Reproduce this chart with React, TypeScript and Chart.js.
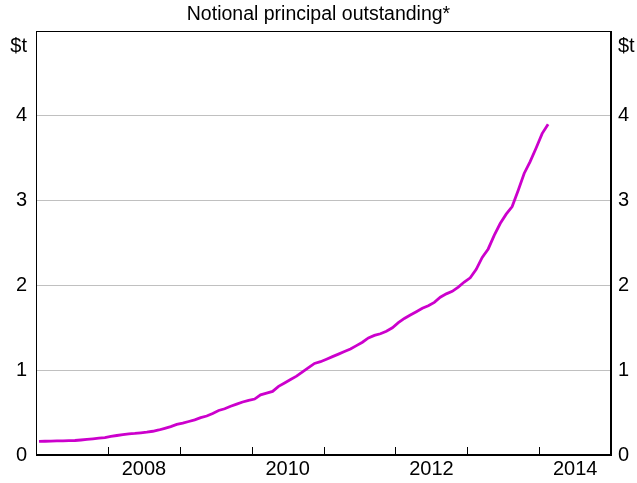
import React, { useEffect, useRef } from "react";
import { Chart, registerables } from "chart.js";

Chart.register(...registerables);

const title = "Notional principal outstanding*";
const unitLabel = "$t";
const startYear = 2007;
const yearTicks = [2007, 2008, 2009, 2010, 2011, 2012, 2013, 2014, 2015];
const labelledYears = [2008, 2010, 2012, 2014];
const yTicks = [0, 1, 2, 3, 4, 5];

// Monthly values, Jan 2007 – Feb 2014 (US$ trillion)
const values2007 = [0.16, 0.162, 0.164, 0.166, 0.167, 0.169, 0.171, 0.177, 0.184, 0.191, 0.198, 0.206];
const values2008 = [0.22, 0.23, 0.24, 0.25, 0.255, 0.262, 0.27, 0.28, 0.295, 0.315, 0.335, 0.36];
const values2009 = [0.375, 0.395, 0.415, 0.44, 0.46, 0.49, 0.525, 0.545, 0.575, 0.6, 0.625, 0.645];
const values2010 = [0.66, 0.71, 0.73, 0.75, 0.81, 0.85, 0.89, 0.93, 0.98, 1.03, 1.08, 1.1];
const values2011 = [1.13, 1.16, 1.19, 1.22, 1.25, 1.29, 1.33, 1.38, 1.41, 1.43, 1.46, 1.5];
const values2012 = [1.56, 1.61, 1.65, 1.69, 1.73, 1.76, 1.8, 1.86, 1.9, 1.93, 1.98, 2.04];
const values2013 = [2.09, 2.19, 2.33, 2.43, 2.59, 2.73, 2.84, 2.93, 3.12, 3.32, 3.46, 3.62];
const values2014 = [3.79, 3.9];

const series = [
  ...values2007, ...values2008, ...values2009, ...values2010,
  ...values2011, ...values2012, ...values2013, ...values2014,
];

const points = series.map((v, i) => ({ x: startYear + (i + 0.5) / 12, y: v }));

const FONT = "'Liberation Sans', Arial, sans-serif";
const TICK_SIZE = 20;

const decorPlugin = {
  id: "decor",
  afterDraw(chart: any) {
    const { ctx, chartArea, scales } = chart;
    const xs = scales.x;
    ctx.save();
    // inward tick marks
    ctx.strokeStyle = "#000";
    ctx.lineWidth = 1;
    ctx.beginPath();
    yearTicks.slice(1, -1).forEach((yr) => {
      const px = Math.round(xs.getPixelForValue(yr)) + 0.5;
      ctx.moveTo(px, chartArea.bottom);
      ctx.lineTo(px, chartArea.bottom - 8);
    });
    ctx.stroke();
    // frame
    ctx.strokeRect(
      Math.round(chartArea.left) + 0.5,
      Math.round(chartArea.top) + 0.5,
      Math.round(chartArea.right - chartArea.left) - 1,
      Math.round(chartArea.bottom - chartArea.top) - 1
    );
    // unit labels
    ctx.fillStyle = "#000";
    ctx.font = `${TICK_SIZE}px ${FONT}`;
    ctx.textBaseline = "middle";
    ctx.textAlign = "right";
    ctx.fillText(unitLabel, chartArea.left - 9, chartArea.top + 15);
    ctx.textAlign = "left";
    ctx.fillText(unitLabel, chartArea.right + 7, chartArea.top + 15);
    ctx.restore();
  },
};

export default function App() {
  const ref = useRef<HTMLCanvasElement | null>(null);

  useEffect(() => {
    if (!ref.current) return;
    const chart = new Chart(ref.current, {
      type: "line",
      data: {
        datasets: [
          {
            data: points,
            borderColor: "#cc00cc",
            borderWidth: 2.8,
            pointRadius: 0,
            tension: 0,
            fill: false,
            yAxisID: "y",
          },
        ],
      },
      options: {
        animation: false,
        responsive: false,
        layout: { padding: 0 },
        plugins: {
          legend: { display: false },
          tooltip: { enabled: false },
          title: {
            display: true,
            text: title,
            color: "#000",
            font: { family: FONT, size: 19.5, weight: "normal" },
            padding: { top: 3, bottom: 4.6 },
          },
        },
        scales: {
          x: {
            type: "linear",
            min: 2007,
            max: 2015,
            afterBuildTicks: (s: any) => {
              s.ticks = yearTicks.map((v) => ({ value: v }));
            },
            afterFit: (s: any) => {
              s.height = 28;
            },
            ticks: {
              autoSkip: false,
              maxRotation: 0,
              padding: 2,
              labelOffset: 36,
              color: "#000",
              font: { family: FONT, size: TICK_SIZE },
              callback: (v: any) => (labelledYears.includes(Number(v)) ? String(v) : ""),
            },
            grid: { display: false, drawTicks: false },
            border: { display: true, color: "#000", width: 1 },
          },
          y: {
            position: "left",
            min: 0,
            max: 5,
            afterBuildTicks: (s: any) => {
              s.ticks = yTicks.map((v) => ({ value: v }));
            },
            afterFit: (s: any) => {
              s.width = 36;
            },
            ticks: {
              padding: 9,
              color: "#000",
              font: { family: FONT, size: TICK_SIZE },
              callback: (v: any) => (Number(v) === 5 ? "" : String(v)),
            },
            grid: {
              drawTicks: false,
              color: "#c0c0c0",
              lineWidth: (c: any) => (c.tick && (c.tick.value === 0 || c.tick.value === 5) ? 0 : 1),
            },
            border: { display: true, color: "#000", width: 1 },
          },
          y2: {
            position: "right",
            min: 0,
            max: 5,
            afterBuildTicks: (s: any) => {
              s.ticks = yTicks.map((v) => ({ value: v }));
            },
            afterFit: (s: any) => {
              s.width = 26;
            },
            ticks: {
              padding: 7,
              color: "#000",
              font: { family: FONT, size: TICK_SIZE },
              callback: (v: any) => (Number(v) === 5 ? "" : String(v)),
            },
            grid: { display: false, drawTicks: false },
            border: { display: true, color: "#000", width: 1 },
          },
        },
      },
      plugins: [decorPlugin],
    });
    return () => chart.destroy();
  }, []);

  return (
    <div style={{ position: "absolute", left: 0, top: 0, width: 637, height: 483, background: "#fff" }}>
      <canvas ref={ref} width={637} height={483} style={{ display: "block" }} />
    </div>
  );
}
